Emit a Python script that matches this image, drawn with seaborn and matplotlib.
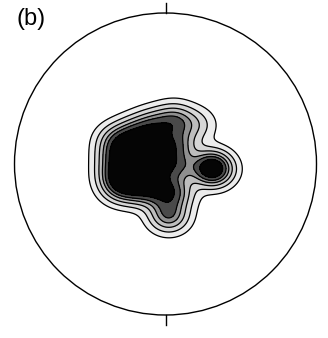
import matplotlib
matplotlib.use('Agg')
import matplotlib.pyplot as plt
from matplotlib.patches import Circle
import pandas as pd
import seaborn as sns

# pole positions on the net (unit radius), with weights
pole_x = [-0.32, -0.20, -0.08, 0.06,
          -0.32, -0.20, -0.08, 0.07,
          -0.32, -0.20, -0.08, 0.07,
          -0.30, -0.18, -0.06, 0.06,
          0.31, 0.02, 0.20]
pole_y = [0.15, 0.20, 0.25, 0.29,
          0.04, 0.07, 0.10, 0.13,
          -0.07, -0.05, -0.03, -0.01,
          -0.15, -0.16, -0.17, -0.19,
          -0.03, -0.34, 0.26]
pole_w = [1.0] * 16 + [2.2, 1.2, 0.5]

levels = [0.02, 0.06, 0.12, 0.20, 0.30, 0.45, 1.0]
shades = ['#ececec', '#d6d6d6', '#bdbdbd', '#8f8f8f', '#4a4a4a', '#050505']
label = '(b)'


def plot_net(data: pd.DataFrame) -> plt.Figure:
    fig = plt.figure(figsize=(3.28, 3.38), dpi=100)
    ax = fig.add_axes([14.5 / 328, 23 / 338, 302 / 328, 302 / 338])

    sns.kdeplot(data=data, x='x', y='y', weights='w', fill=True,
                levels=levels, cmap='Greys', bw_adjust=0.7,
                gridsize=200, ax=ax)
    # grey steps by band, not by density value
    bands = ax.collections[-1]
    bands.set_array(None)
    bands.set_facecolor(shades)

    sns.kdeplot(data=data, x='x', y='y', weights='w', fill=False,
                levels=levels[:-1], color='black', linewidths=0.9,
                bw_adjust=0.7, gridsize=200, ax=ax)

    ax.add_patch(Circle((0, 0), 1, fill=False, lw=1.0, color='black',
                        clip_on=False))
    ax.plot([0, 0], [1, 1.066], color='black', lw=1.0, clip_on=False)
    ax.plot([0, 0], [-1, -1.066], color='black', lw=1.0, clip_on=False)

    ax.set_xlim(-1, 1)
    ax.set_ylim(-1, 1)
    ax.set_aspect('equal')
    ax.set_axis_off()

    fig.text(17 / 328, 1 - 8 / 338, label, fontsize=17, va='top', ha='left',
             family=['Liberation Sans', 'DejaVu Sans'])
    return fig


if __name__ == '__main__':
    data = pd.DataFrame({'x': pole_x, 'y': pole_y, 'w': pole_w})
    fig = plot_net(data)
    fig.savefig('out.png', dpi=100, facecolor='white')
